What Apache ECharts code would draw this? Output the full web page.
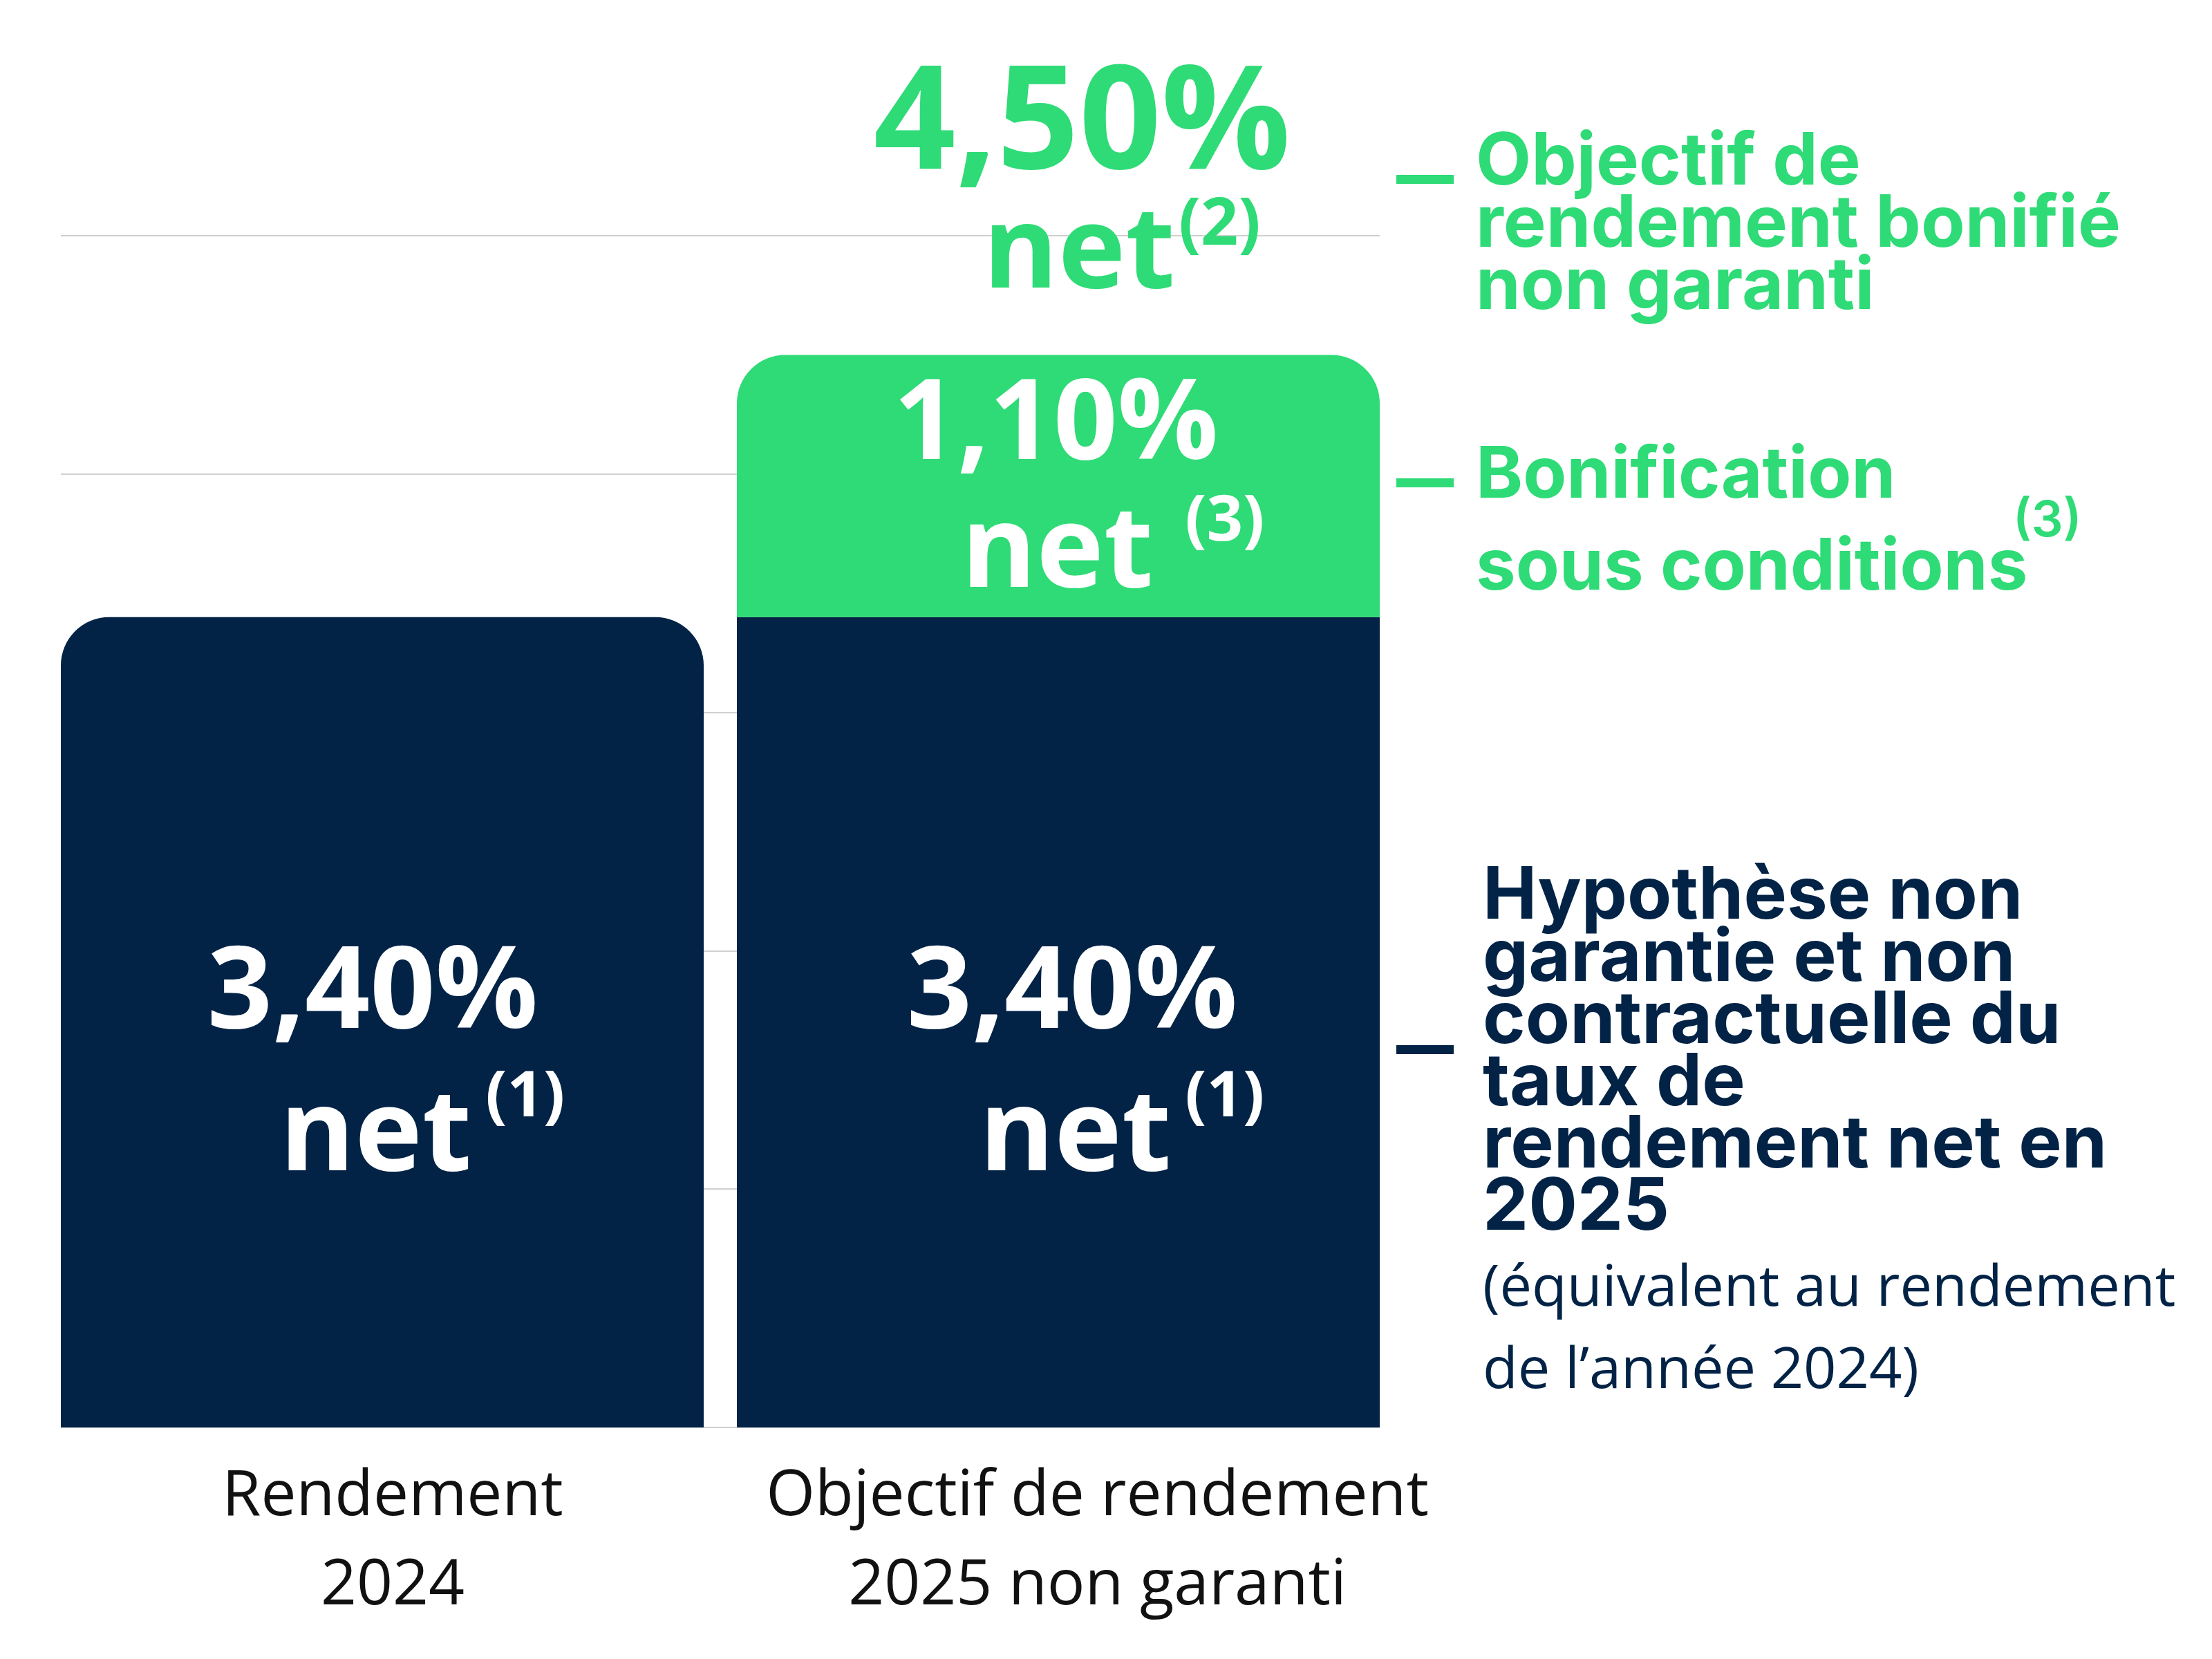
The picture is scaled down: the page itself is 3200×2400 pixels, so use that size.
<!DOCTYPE html>
<html>
<head>
<meta charset="utf-8">
<script src="https://cdn.jsdelivr.net/npm/echarts@6/dist/echarts.min.js"></script>
<style>
  html, body { margin: 0; padding: 0; background: #ffffff; }
  #chart { width: 3200px; height: 2400px; }
</style>
</head>
<body>
<div id="chart"></div>
<script>
// ---- data ----
const categories = ['Rendement\n2024', 'Objectif de rendement\n2025 non garanti'];
const baseValues = [3.40, 3.40];        // rendement net (1)
const bonusValues = [null, 1.10];       // bonification sous conditions (3)
const totalValues = [null, 4.50];       // objectif bonifié non garanti (2)
const baseNotes = ['(1)', '(1)'];
const bonusNote = '(3)';
const totalNote = '(2)';
const yTicks = [0, 1, 2, 3, 4, 5];

// ---- styles ----
const NAVY = '#022346';
const GREEN = '#2EDB76';
const fmt = v => v.toFixed(2).replace('.', ',') + '%';
const baseLabelOffsets = [[58, 64], [92, 64]];
const baseRadius = [[70, 70, 0, 0], 0];
const catLabelPadding = [[0, 0, 0, 30], [0, 0, 0, 113]];

const chart = echarts.init(document.getElementById('chart'), null, { renderer: 'canvas' });

const baseData = baseValues.map((v, i) => ({
  value: v,
  itemStyle: { borderRadius: baseRadius[i] },
  label: { offset: baseLabelOffsets[i] }
}));

const yRange = { min: yTicks[0], max: yTicks[yTicks.length - 1], interval: 1 };

const option = {
  backgroundColor: '#ffffff',
  animation: false,
  grid: [
    { left: 64, right: 1180, top: 341, bottom: 335, containLabel: false },   // bars
    { left: 88, right: 1204, top: 341, bottom: 335, containLabel: false }    // gridlines
  ],
  xAxis: [
    {
      type: 'category',
      gridIndex: 0,
      data: categories.map((c, i) => ({ value: c, textStyle: { padding: catLabelPadding[i] } })),
      axisLine: { show: false },
      axisTick: { show: false },
      axisLabel: {
        interval: 0,
        margin: 37,
        fontFamily: 'Open Sans',
        fontSize: 91,
        lineHeight: 129,
        color: '#111111',
        align: 'center'
      }
    },
    { type: 'value', gridIndex: 1, min: 0, max: 1, show: false }
  ],
  yAxis: [
    {
      type: 'value', gridIndex: 0, ...yRange,
      axisLabel: { show: false }, axisLine: { show: false }, axisTick: { show: false },
      splitLine: { show: false }
    },
    {
      type: 'value', gridIndex: 1, ...yRange,
      axisLabel: { show: false }, axisLine: { show: false }, axisTick: { show: false },
      splitLine: { show: true, lineStyle: { color: '#d0d0d0', width: 2 } }
    }
  ],
  series: [
    {
      name: 'Rendement net',
      type: 'bar',
      stack: 'r',
      barWidth: 930,
      data: baseData,
      itemStyle: { color: NAVY },
      label: {
        show: true,
        position: 'inside',
        color: '#ffffff',
        formatter: p => `{big|${fmt(p.value)}}\n{net|net}{sup|${baseNotes[p.dataIndex]}}`,
        rich: {
          big: { fontFamily: 'Open Sans', fontWeight: 'bold', fontSize: 165, lineHeight: 206, color: '#fff', padding: [0, 144, 0, 0] },
          net: { fontFamily: 'Open Sans', fontWeight: 'bold', fontSize: 165, lineHeight: 206, color: '#fff' },
          sup: { fontFamily: 'Open Sans', fontWeight: 'bold', fontSize: 92, lineHeight: 28, color: '#fff', verticalAlign: 'top', padding: [0, 0, 0, 20] }
        }
      }
    },
    {
      name: 'Bonification',
      type: 'bar',
      stack: 'r',
      barWidth: 930,
      data: bonusValues,
      itemStyle: { color: GREEN, borderRadius: [70, 70, 0, 0] },
      label: {
        show: true,
        position: 'inside',
        offset: [79, 7],
        color: '#ffffff',
        formatter: p => `{big|${fmt(p.value)}}\n{net|net}{sup|${bonusNote}}`,
        rich: {
          big: { fontFamily: 'Open Sans', fontWeight: 'bold', fontSize: 162, lineHeight: 184, color: '#fff', padding: [0, 165, 0, 0] },
          net: { fontFamily: 'Open Sans', fontWeight: 'bold', fontSize: 165, lineHeight: 184, color: '#fff' },
          sup: { fontFamily: 'Open Sans', fontWeight: 'bold', fontSize: 92, lineHeight: 102, color: '#fff', verticalAlign: 'top', padding: [0, 0, 0, 46] }
        }
      }
    },
    {
      name: 'Objectif bonifié',
      type: 'bar',
      barWidth: 930,
      barGap: '-100%',
      data: totalValues,
      itemStyle: { color: 'rgba(0,0,0,0)' },
      z: 1,
      label: {
        show: true,
        position: 'top',
        distance: 54,
        offset: [92, 0],
        color: GREEN,
        formatter: p => `{big|${fmt(p.value)}}\n{net|net}{sup|${totalNote}}`,
        rich: {
          big: { fontFamily: 'Open Sans', fontWeight: 'bold', fontSize: 208, lineHeight: 190, color: GREEN, padding: [0, 115, 0, 0] },
          net: { fontFamily: 'Open Sans', fontWeight: 'bold', fontSize: 165, lineHeight: 180, color: GREEN },
          sup: { fontFamily: 'Open Sans', fontWeight: 'bold', fontSize: 95, lineHeight: 128, color: GREEN, verticalAlign: 'top', padding: [0, 0, 0, 5] }
        }
      }
    }
  ],
  graphic: [
    { type: 'rect', shape: { x: 2020, y: 253, width: 83, height: 13 }, style: { fill: GREEN } },
    { type: 'rect', shape: { x: 2020, y: 692, width: 83, height: 13 }, style: { fill: GREEN } },
    { type: 'rect', shape: { x: 2020, y: 1512, width: 83, height: 13 }, style: { fill: NAVY } },
    {
      type: 'text', left: 2135, top: 184,
      style: {
        text: 'Objectif de\nrendement bonifié\nnon garanti',
        fontFamily: 'Inter', fontWeight: 'bold', fontSize: 104, lineHeight: 90, fill: GREEN
      }
    },
    {
      type: 'text', left: 2135, top: 623,
      style: {
        text: 'Bonification\nsous conditions',
        fontFamily: 'Inter', fontWeight: 'bold', fontSize: 103, lineHeight: 133, fill: GREEN
      }
    },
    {
      type: 'text', left: 2912, top: 714,
      style: { text: '(3)', fontFamily: 'Inter', fontWeight: 600, fontSize: 72, lineHeight: 80, fill: GREEN }
    },
    {
      type: 'text', left: 2145, top: 1245,
      style: {
        text: 'Hypothèse non\ngarantie et non\ncontractuelle du\ntaux de\nrendement net en\n2025',
        fontFamily: 'Inter', fontWeight: 'bold', fontSize: 105, lineHeight: 90, fill: NAVY
      }
    },
    {
      type: 'text', left: 2145, top: 1806,
      style: {
        text: '(équivalent au rendement\nde l’année 2024)',
        fontFamily: 'Open Sans', fontSize: 83, lineHeight: 119, fill: NAVY
      }
    }
  ]
};

chart.setOption(option);
</script>
</body>
</html>
